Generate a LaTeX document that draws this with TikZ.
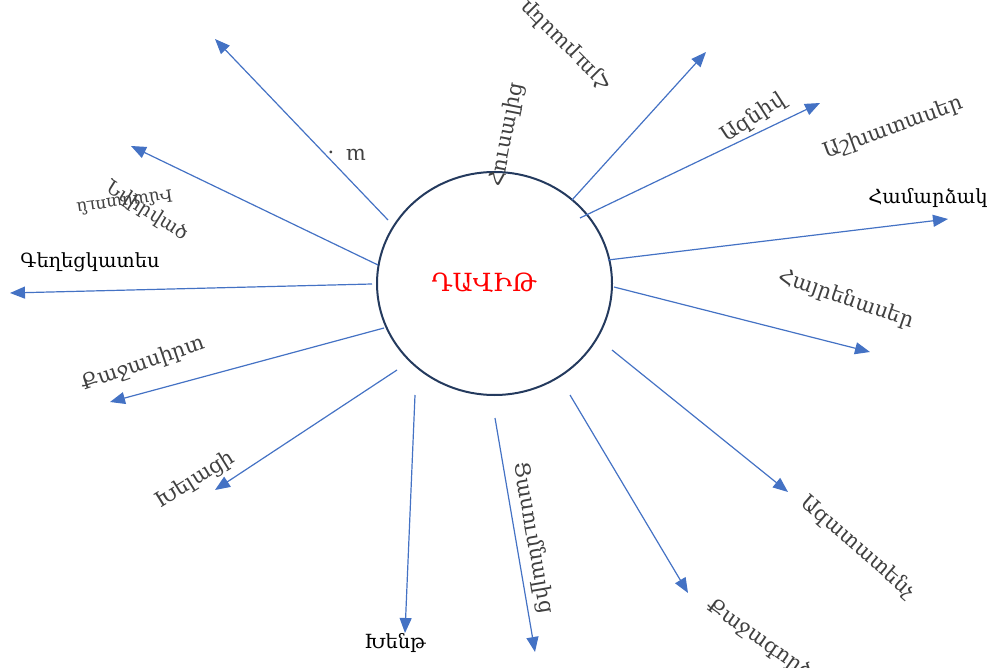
\documentclass[tikz,border=0pt]{standalone}
\usepackage{fontspec}
\setmainfont{DejaVu Serif}
\usetikzlibrary{arrows.meta, shapes.geometric}
\definecolor{arrblue}{HTML}{4472C4}
\definecolor{rimnavy}{HTML}{243A5E}

\begin{document}
\begin{tikzpicture}[x=1pt, y=-1pt,
    arr/.style={draw=arrblue, line width=1.2pt, -{Triangle[length=15pt, width=12pt]}},
    lbl/.style={font=\fontsize{19.5}{23}\selectfont, inner sep=0pt},
    wlbl/.style={font=\fontsize{21}{25}\selectfont, text=black!75, inner sep=0pt}]
    \useasboundingbox (0,0) rectangle (993,668);

    % centre
    \node[draw=rimnavy, line width=2pt, ellipse, minimum width=235pt, minimum height=223pt] (david) at (494.5,283.5) {};
    \node[text=red, font=\fontsize{25}{30}\selectfont, inner sep=0pt] (name) at (484,283) {ԴԱՎԻԹ};

    % arrow ends
    \coordinate (s1) at (388,220);  \coordinate (t1) at (215,39);
    \coordinate (s2) at (378,265);  \coordinate (t2) at (131,146);
    \coordinate (s3) at (372,284);  \coordinate (t3) at (10,293);
    \coordinate (s4) at (384,328);  \coordinate (t4) at (110,402);
    \coordinate (s5) at (397,370);  \coordinate (t5) at (215,490);
    \coordinate (s6) at (415,395);  \coordinate (t6) at (405,633);
    \coordinate (s7) at (495,418);  \coordinate (t7) at (535,652);
    \coordinate (s8) at (570,395);  \coordinate (t8) at (688,593);
    \coordinate (s9) at (612,350);  \coordinate (t9) at (788,492);
    \coordinate (s10) at (614,287); \coordinate (t10) at (870,352);
    \coordinate (s11) at (608,260); \coordinate (t11) at (948,219);
    \coordinate (s12) at (580,218); \coordinate (t12) at (820,103);
    \coordinate (s13) at (572,200); \coordinate (t13) at (706,52);

    \draw[arr] (s1) -- (t1);
    \draw[arr] (s2) -- (t2);
    \draw[arr] (s3) -- (t3);
    \draw[arr] (s4) -- (t4);
    \draw[arr] (s5) -- (t5);
    \draw[arr] (s6) -- (t6);
    \draw[arr] (s7) -- (t7);
    \draw[arr] (s8) -- (t8);
    \draw[arr] (s9) -- (t9);
    \draw[arr] (s10) -- (t10);
    \draw[arr] (s11) -- (t11);
    \draw[arr] (s12) -- (t12);
    \draw[arr] (s13) -- (t13);

    % flat labels
    \node[lbl] (gegh) at (90,262) {Գեղեցկատես};
    \node[lbl] (hamardz) at (928,198) {Համարձակ};
    \node[lbl] (khent) at (395,643) {Խենթ};

    % turned labels
    \node[wlbl, rotate=33] (azniv) at (753,118) {Ազնիվ};
    \node[wlbl, rotate=20] (ashkh) at (893,128) {Աշխատասեր};
    \node[wlbl, rotate=-19] (hayren) at (846,299) {Հայրենասեր};
    \node[wlbl, rotate=-41] (azat) at (858,547) {Ազատատենչ};
    \node[wlbl, rotate=-35] (qajag) at (760,639) {Քաջագործ};
    \node[wlbl, rotate=-80] (tsasum) at (533,538) {Ցասումնալից};
    \node[wlbl, rotate=32] (khelac) at (195,480) {Խելացի};
    \node[wlbl, rotate=19] (qajas) at (143,364) {Քաջասիրտ};
    \node[wlbl, rotate=-32, font=\fontsize{19}{23}\selectfont] (nvir) at (147,211) {Նվիրված};
    \node[wlbl, rotate=188, font=\fontsize{17}{20}\selectfont] (imast) at (125,203) {Իմաստուն};
    \node[wlbl, rotate=79] (husal) at (507,135) {Հուսալից};
    \node[wlbl, rotate=135] (hyur) at (566,46) {Հյուրասեր};
    \node[wlbl, rotate=180] (frag) at (356,155) {ա};
    \node[wlbl] (dot) at (331,152) {.};
\end{tikzpicture}
\end{document}
